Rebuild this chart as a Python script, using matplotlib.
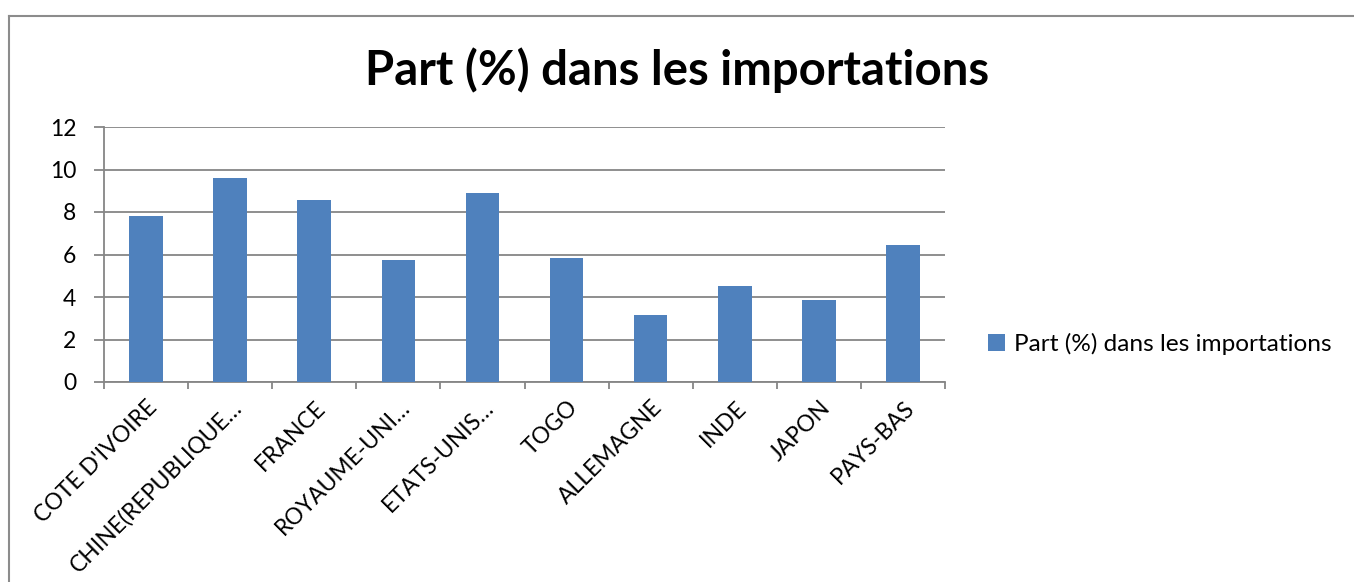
import matplotlib
matplotlib.use('Agg')
from matplotlib import pyplot as plt
from matplotlib.lines import Line2D
from matplotlib.transforms import ScaledTranslation
import numpy as np

categories = ["COTE D'IVOIRE", "CHINE(REPUBLIQUE…", "FRANCE", "ROYAUME-UNI…", "ETATS-UNIS…",
              "TOGO", "ALLEMAGNE", "INDE", "JAPON", "PAYS-BAS"]
values = [7.8, 9.6, 8.55, 5.75, 8.9, 5.85, 3.17, 4.52, 3.85, 6.45]
yticks = [0, 2, 4, 6, 8, 10, 12]
title = 'Part (%) dans les importations'
series_name = 'Part (%) dans les importations'

bar_color = '#4F81BD'
grid_color = '#868686'

plt.rcParams['font.family'] = ['Lato', 'DejaVu Sans']

fig = plt.figure(figsize=(13.54, 5.82), dpi=100)
ax = fig.add_axes([104 / 1354, 1 - 382 / 582, (945 - 104) / 1354, (382 - 127) / 582])

x = np.arange(len(categories))
ax.bar(x, values, width=0.4, color=bar_color, zorder=3, label=series_name)

ax.set_xlim(-0.5, len(categories) - 0.5)
ax.set_ylim(0, 12)
ax.set_yticks(yticks)
ax.set_yticklabels([str(v) for v in yticks], fontsize=16.5)
ax.yaxis.grid(True, color=grid_color, linewidth=1.3, zorder=0)
ax.tick_params(axis='y', length=7, width=1.3, color=grid_color, pad=13)

# category boundaries carry the ticks, labels sit at the centers
ax.set_xticks(np.arange(len(categories) + 1) - 0.5)
ax.set_xticklabels([])
ax.tick_params(axis='x', which='major', length=5, width=1.3, color=grid_color)
ax.set_xticks(x, minor=True)
ax.set_xticklabels(categories, minor=True, rotation=45, ha='right', va='center',
                   rotation_mode='anchor', fontsize=16.5)
ax.tick_params(axis='x', which='minor', length=0, pad=16)
shift = ScaledTranslation(8 / 100, 0, fig.dpi_scale_trans)
for lbl in ax.get_xticklabels(minor=True):
    lbl.set_transform(lbl.get_transform() + shift)

for side in ['top', 'right']:
    ax.spines[side].set_visible(False)
for side in ['left', 'bottom']:
    ax.spines[side].set_color(grid_color)
    ax.spines[side].set_linewidth(1.3)

fig.text(0.5, 1 - 70 / 582, title, ha='center', va='center', fontsize=34, fontweight='bold')

fig.legend(loc='center left', bbox_to_anchor=(988 / 1354, 1 - 344 / 582), frameon=False,
           borderaxespad=0, borderpad=0,
           fontsize=17.6, handlelength=0.7, handleheight=0.7, handletextpad=0.35)

# outer chart frame (only top and left visible in the reference)
fig.add_artist(Line2D([8.5 / 1354, 1], [1 - 15.5 / 582, 1 - 15.5 / 582], color='#8c8c8c', linewidth=1.5))
fig.add_artist(Line2D([8.5 / 1354, 8.5 / 1354], [0, 1 - 15.5 / 582], color='#8c8c8c', linewidth=1.5))

fig.savefig('out.png', dpi=100)
